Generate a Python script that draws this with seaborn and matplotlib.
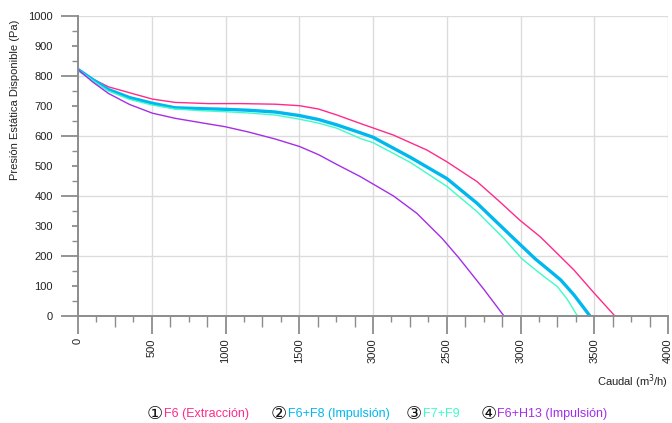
import matplotlib
matplotlib.use("Agg")
import matplotlib.pyplot as plt
import seaborn as sns
import pandas as pd

# Fan curves: available static pressure vs airflow, one per filter combination
caudal_f6 = [0, 100, 206, 387, 505, 658, 884, 1100, 1337, 1502, 1630, 1755, 1913,
             2139, 2366, 2501, 2705, 2850, 2994, 3134, 3250, 3363, 3500, 3640]
presion_f6 = [822, 790, 764, 739, 723, 712, 708, 708, 706, 701, 690, 670, 642,
              603, 553, 514, 448, 385, 320, 264, 208, 153, 76, 0]

caudal_f6f8 = [0, 100, 206, 350, 505, 658, 850, 997, 1150, 1337, 1502, 1630, 1755,
               1913, 2000, 2253, 2501, 2705, 2953, 3101, 3200, 3273, 3363, 3471]
presion_f6f8 = [822, 788, 755, 728, 709, 694, 691, 689, 686, 680, 668, 655, 637,
                611, 596, 529, 458, 376, 259, 190, 150, 120, 70, 0]

caudal_f7f9 = [0, 100, 206, 350, 505, 658, 850, 997, 1150, 1337, 1502, 1630, 1755,
               1913, 2000, 2253, 2501, 2705, 2886, 3011, 3150, 3250, 3318, 3386]
presion_f7f9 = [822, 785, 750, 722, 703, 690, 684, 681, 677, 670, 656, 643, 626,
                592, 578, 512, 432, 348, 259, 190, 135, 98, 55, 0]

caudal_f6h13 = [0, 100, 206, 350, 505, 658, 850, 997, 1150, 1337, 1502, 1630, 1755,
                1913, 2000, 2139, 2298, 2468, 2580, 2750, 2888]
presion_f6h13 = [822, 780, 742, 705, 676, 659, 643, 631, 614, 590, 565, 538, 505,
                 465, 440, 400, 342, 259, 195, 90, 0]

series_names = ["F6 (Extracción)", "F6+F8 (Impulsión)", "F7+F9", "F6+H13 (Impulsión)"]
series_colors = ["#ff2a8a", "#00b7f0", "#3dfcc8", "#a42ee8"]
series_widths = [1.0, 2.4, 1.0, 1.0]

x_ticks = [0, 500, 1000, 1500, 2000, 2500, 3000, 3500, 4000]
x_tick_labels = ["0", "500", "1000", "1500", "3000", "2500", "3000", "3500", "4000"]
y_ticks = list(range(0, 1001, 100))

frames = []
for name, xs, ys in zip(series_names,
                        [caudal_f6, caudal_f6f8, caudal_f7f9, caudal_f6h13],
                        [presion_f6, presion_f6f8, presion_f7f9, presion_f6h13]):
    frames.append(pd.DataFrame({"caudal": xs, "presion": ys, "serie": name}))
df = pd.concat(frames, ignore_index=True)

sns.set_theme(style="white")
plt.rcParams["font.family"] = ["Liberation Sans", "DejaVu Sans"]

fig = plt.figure(figsize=(6.72, 4.23), dpi=100)
ax = fig.add_axes([78 / 672, 1 - 316 / 423, 590 / 672, 300 / 423])

for name, color, lw in zip(series_names, series_colors, series_widths):
    sns.lineplot(data=df[df["serie"] == name], x="caudal", y="presion",
                 color=color, linewidth=lw, ax=ax, legend=False,
                 estimator=None, sort=False, zorder=3)

ax.set_xlim(0, 4000)
ax.set_ylim(0, 1000)
ax.set_xlabel("")
ax.set_ylabel("")

# grid
for gx in x_ticks[1:]:
    ax.axvline(gx, color="#dcdcdc", linewidth=1.0, zorder=1)
for gy in [200, 400, 600, 800, 1000]:
    ax.axhline(gy, color="#dcdcdc", linewidth=1.0, zorder=1)

for side in ["top", "right"]:
    ax.spines[side].set_visible(False)
for side in ["left", "bottom"]:
    ax.spines[side].set_color("#8c8c8c")
    ax.spines[side].set_linewidth(1.4)
    ax.spines[side].set_zorder(4)

# ticks
ax.set_xticks(x_ticks)
ax.set_xticklabels(x_tick_labels, rotation=90, va="top", ha="center")
ax.set_xticks(list(range(125, 4000, 125)), minor=True)
ax.set_yticks(y_ticks)
ax.set_yticks(list(range(50, 1000, 100)), minor=True)

ax.tick_params(axis="x", which="major", direction="out", length=13, width=1.3,
               color="#8c8c8c", labelsize=8, labelcolor="#222222", pad=3, bottom=True)
ax.tick_params(axis="x", which="minor", direction="out", length=4, width=1.0,
               color="#8c8c8c", bottom=True)
ax.tick_params(axis="y", which="major", direction="out", length=12, width=1.3,
               color="#8c8c8c", labelsize=8, labelcolor="#222222", pad=6, left=True)
ax.tick_params(axis="y", which="minor", direction="out", length=4, width=1.0,
               color="#8c8c8c", left=True)

for val, t in zip(y_ticks, ax.yaxis.get_major_ticks()):
    if val % 200 != 0:
        t.tick1line.set_markersize(4)
for val, t in zip(range(125, 4000, 125), ax.xaxis.get_minor_ticks()):
    if val % 250 == 0:
        t.tick1line.set_markersize(8)

fig.text(15 / 672, 1 - 20 / 423, "Presión Estática Disponible (Pa)", rotation=90,
         ha="center", va="top", fontsize=8, color="#222222")
fig.text(668 / 672, 1 - 382 / 423, "Caudal (m$^3$/h)", ha="right", va="center",
         fontsize=8, color="#222222")

# legend row: circled number followed by the coloured series name
mark_x = [147, 271, 406, 481]
name_x = [164, 288, 423, 497]
marks = ["①", "②", "③", "④"]
for mx, nx, mark, name, color in zip(mark_x, name_x, marks, series_names, series_colors):
    fig.text(mx / 672, 1 - 414 / 423, mark, ha="left", va="center",
             fontsize=13, color="#111111", family=["DejaVu Sans"])
    fig.text(nx / 672, 1 - 414 / 423, name, ha="left", va="center",
             fontsize=9, color=color)

fig.savefig("out.png", dpi=100)
